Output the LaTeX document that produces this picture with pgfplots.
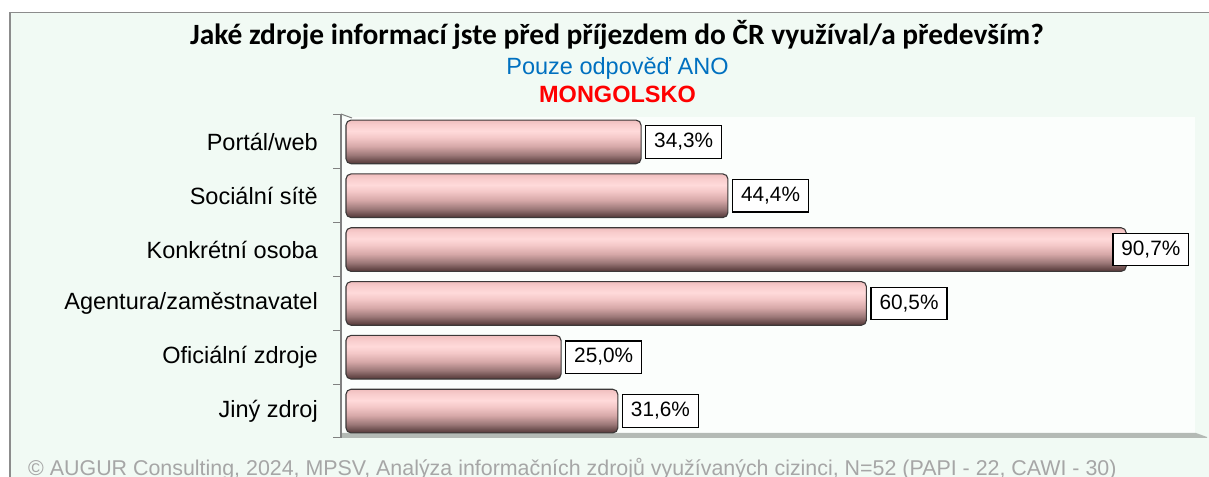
\documentclass[border=0pt]{standalone}
\usepackage{pgfplots}
\pgfplotsset{compat=1.18}
\usepackage{fontspec}
\setmainfont{Liberation Sans}
\newfontfamily\calibri{Carlito}
\definecolor{panel}{RGB}{241,250,244}
\definecolor{bordergray}{RGB}{140,140,140}
\definecolor{plotbg}{RGB}{251,254,252}
\definecolor{floorgray}{RGB}{180,186,181}
\definecolor{wallgray}{RGB}{128,128,128}
\definecolor{subblue}{RGB}{0,112,192}
\definecolor{footgray}{RGB}{166,166,166}
\definecolor{bardraw}{RGB}{60,56,56}
\definecolor{bs0}{RGB}{85,56,56}
\definecolor{bs1}{RGB}{110,80,80}
\definecolor{bs2}{RGB}{156,120,120}
\definecolor{bs3}{RGB}{214,168,168}
\definecolor{bs4}{RGB}{244,200,200}
\definecolor{bs5}{RGB}{255,218,218}
\definecolor{bs6}{RGB}{248,204,204}
\definecolor{bs7}{RGB}{239,190,190}
\pgfdeclareverticalshading{barshade}{100bp}{color(0bp)=(bs0); color(25bp)=(bs0); color(29bp)=(bs1); color(35bp)=(bs2); color(45bp)=(bs3); color(55bp)=(bs4); color(62.5bp)=(bs5); color(70bp)=(bs6); color(75bp)=(bs7); color(100bp)=(bs7)}
\tikzset{valbox/.style={draw=black, line width=1.3bp, fill=white, inner xsep=8.5bp, inner ysep=7bp, text height=15bp, text depth=3.5bp, text=black, font=\fontsize{20.8bp}{24bp}\selectfont}}
\pgfplotsset{cylbar/.style={xbar, bar shift=0pt, draw=bardraw, line width=1.1bp, shading=barshade, rounded corners=5bp},
  vallab/.style={draw=none, mark=none, point meta=x,
  nodes near coords={\pgfmathprintnumber[fixed,fixed zerofill,precision=1,use comma,assume math mode=true]{\pgfplotspointmeta}\%},
  nodes near coords align=horizontal,
  every node near coord/.append style={valbox, anchor=west, xshift=#1}}}
\begin{document}
\begin{tikzpicture}[x=1bp,y=1bp]
\fill[panel, draw=bordergray, line width=1.5bp] (10,464.5) rectangle (1260,-40);
\fill[plotbg] (341,360) rectangle (1195,44);
\fill[floorgray] (341,44) -- (1196,44) -- (1207,40) -- (1207,39) -- (341,39) -- cycle;
\draw[wallgray, line width=1.2bp] (341,363) -- (341,39);
\draw[wallgray, line width=1bp] (341,363) -- (352,359);
\foreach \k in {0,...,6} {\draw[wallgray, line width=1bp] (333,{362-\k*53.83}) -- (341,{362-\k*53.83});}
\begin{axis}[at={(346bp,39bp)}, anchor=south west, scale only axis,
  width=849bp, height=323bp,
  xmin=0, xmax=98.7, ymin=0.5, ymax=6.5,
  axis line style={draw=none}, tick style={draw=none},
  xtick=\empty, ytick={1,...,6},
  yticklabels={Jiný zdroj, Oficiální zdroje, Agentura/zaměstnavatel, Konkrétní osoba, Sociální sítě, Portál/web},
  yticklabel style={font=\fontsize{23.5bp}{28bp}\selectfont, anchor=east, inner sep=0pt, xshift=-28bp},
  clip=false, bar width=0.81]
\addplot[cylbar] coordinates {(31.6,1)};
\addplot[cylbar] coordinates {(25.0,2)};
\addplot[cylbar] coordinates {(60.5,3)};
\addplot[cylbar] coordinates {(90.7,4)};
\addplot[cylbar] coordinates {(44.4,5)};
\addplot[cylbar] coordinates {(34.3,6)};
\addplot[vallab=4bp] coordinates {(31.6,1) (25.0,2) (60.5,3) (44.4,5) (34.3,6)};
\addplot[vallab=-14bp] coordinates {(90.7,4)};
\end{axis}
\node[anchor=base, inner sep=0pt, font=\calibri\bfseries\fontsize{29.4bp}{33bp}\selectfont] at (617,432) {Jaké zdroje informací jste před příjezdem do ČR využíval/a především?};
\node[anchor=base, inner sep=0pt, text=subblue, font=\fontsize{23.5bp}{28bp}\selectfont] at (617.5,402) {Pouze odpověď ANO};
\node[anchor=base, inner sep=0pt, text=red, font=\bfseries\fontsize{23.5bp}{28bp}\selectfont] at (617.5,374) {MONGOLSKO};
\node[anchor=base west, inner sep=0pt, text=footgray, font=\fontsize{21.4bp}{25bp}\selectfont] at (28,1) {© AUGUR Consulting, 2024, MPSV, Analýza informačních zdrojů využívaných cizinci, N=52 (PAPI - 22, CAWI - 30)};
\pgfresetboundingbox
\useasboundingbox (0,0) rectangle (1209,477);
\end{tikzpicture}
\end{document}
